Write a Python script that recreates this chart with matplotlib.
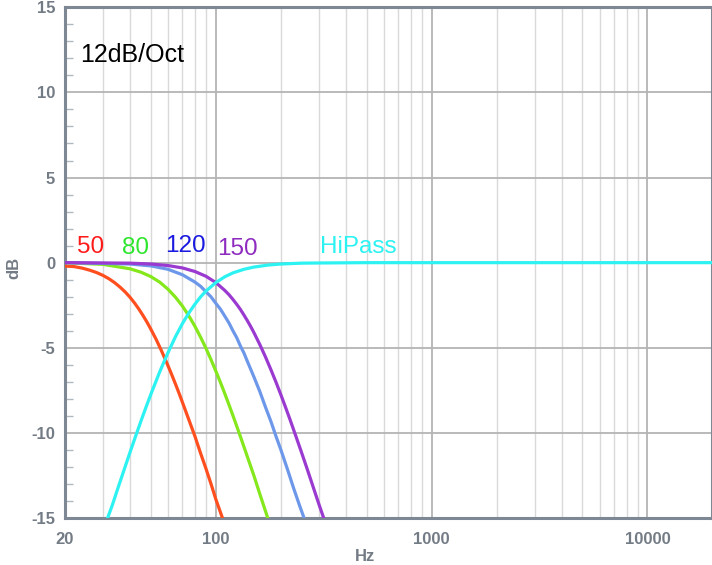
import matplotlib
matplotlib.use("Agg")
import matplotlib.pyplot as plt
from matplotlib.ticker import FixedLocator, MultipleLocator, LogLocator, NullFormatter

plt.rcParams['font.family'] = ['Liberation Sans', 'DejaVu Sans']

# Curves (Hz, dB)
freq_50 = [20, 22, 24, 26, 28, 30, 32, 34, 36, 38, 40, 42, 44, 46, 48, 50, 53, 56, 59, 62,
           65, 68, 72, 76, 80, 85, 90, 95, 100, 108]
db_50 = [-0.2, -0.23, -0.32, -0.44, -0.58, -0.75, -0.95, -1.18, -1.44, -1.72, -2.03, -2.37,
         -2.73, -3.11, -3.5, -3.91, -4.53, -5.18, -5.83, -6.48, -7.13, -7.77, -8.62, -9.43,
         -10.2, -11.2, -12.1, -13.0, -13.9, -15.1]

freq_80 = [20, 30, 40, 45, 50, 55, 60, 65, 70, 75, 80, 85, 90, 95, 100, 105, 110, 115, 120,
           125, 130, 135, 140, 150, 160, 174]
db_80 = [0.0, -0.1, -0.36, -0.56, -0.82, -1.15, -1.56, -2.03, -2.55, -3.13, -3.74, -4.38,
         -5.03, -5.7, -6.37, -7.03, -7.69, -8.34, -8.98, -9.61, -10.22, -10.82, -11.4, -12.5,
         -13.6, -15.0]

freq_120 = [20, 40, 50, 60, 70, 80, 85, 90, 95, 100, 105, 110, 115, 120, 125, 130, 135, 140,
            150, 160, 170, 180, 190, 200, 215, 230, 245, 258]
db_120 = [0.0, -0.08, -0.19, -0.39, -0.71, -1.14, -1.39, -1.71, -2.01, -2.39, -2.73, -3.14,
          -3.54, -4.0, -4.41, -4.9, -5.31, -5.8, -6.7, -7.58, -8.5, -9.33, -10.2, -10.98,
          -12.16, -13.3, -14.31, -15.1]

freq_150 = [20, 40, 50, 60, 70, 80, 90, 100, 110, 115, 120, 125, 130, 135, 140, 145, 150, 160,
            170, 180, 190, 200, 210, 220, 235, 250, 265, 280, 300, 320]
db_150 = [0.0, -0.03, -0.08, -0.17, -0.31, -0.52, -0.8, -1.17, -1.63, -1.88, -2.16, -2.45,
          -2.75, -3.08, -3.41, -3.75, -4.1, -4.82, -5.55, -6.29, -7.02, -7.75, -8.47, -9.17,
          -10.2, -11.18, -12.12, -13.03, -14.17, -15.2]

freq_hp = [31.5, 33, 35, 37.5, 40, 42.5, 45, 47.5, 50, 55, 60, 65, 70, 75, 80, 85, 90, 100,
           110, 120, 135, 150, 175, 200, 250, 300, 500, 20000]
db_hp = [-15.0, -14.31, -13.33, -12.2, -11.15, -10.19, -9.3, -8.48, -7.73, -6.4, -5.29, -4.35,
         -3.58, -2.95, -2.44, -2.01, -1.67, -1.17, -0.83, -0.6, -0.39, -0.26, -0.14, -0.08,
         -0.03, -0.02, 0.0, 0.0]

x_ticks = [20, 100, 1000, 10000]
y_ticks = [-15, -10, -5, 0, 5, 10, 15]

fig = plt.figure(figsize=(7.12, 5.65), dpi=100)
ax = fig.add_axes([65 / 712, 47 / 565, 647.4 / 712, 510.7 / 565])

ax.set_xscale('log')
ax.set_xlim(20, 20000)
ax.set_ylim(-15, 15)

# grid
ax.xaxis.set_major_locator(FixedLocator([100, 1000, 10000]))
ax.xaxis.set_minor_locator(LogLocator(base=10, subs=range(2, 10), numticks=20))
ax.xaxis.set_minor_formatter(NullFormatter())
ax.yaxis.set_major_locator(FixedLocator(y_ticks))
ax.yaxis.set_minor_locator(MultipleLocator(1))
ax.grid(True, which='major', axis='both', color='#b4b4b4', linewidth=1.3, zorder=0)
ax.grid(True, which='minor', axis='x', color='#d9d9d9', linewidth=1.0, zorder=0)

# curves
lw = 2.3
ax.plot(freq_50, db_50, color='#ff4f1f', lw=lw, zorder=3)
ax.plot(freq_80, db_80, color='#84e81c', lw=lw, zorder=3)
ax.plot(freq_120, db_120, color='#6d98ea', lw=lw, zorder=3)
ax.plot(freq_150, db_150, color='#9a3ad0', lw=lw, zorder=3)
ax.plot(freq_hp, db_hp, color='#2cf2f2', lw=lw, zorder=4)

# labels on the chart
ax.text(22.8, 0.56, '50', color='#ff1a1a', fontsize=17.5)
ax.text(36.8, 0.5, '80', color='#2ee62e', fontsize=17.5)
ax.text(58.2, 0.62, '120', color='#1a1ae0', fontsize=17.5)
ax.text(101.9, 0.44, '150', color='#8e2cc0', fontsize=17.5)
ax.text(303, 0.56, 'HiPass', color='#2cf2f2', fontsize=17.5)
ax.text(23.5, 11.8, '12dB/Oct', color='black', fontsize=18)

# ticks
ax.set_xticks(x_ticks)
ax.set_xticklabels([str(t) for t in x_ticks])
ax.set_yticks(y_ticks)
ax.set_yticklabels([str(t) for t in y_ticks])
tick_col = '#737b85'
for lab in ax.get_xticklabels() + ax.get_yticklabels():
    lab.set_fontweight('bold')
    lab.set_color(tick_col)
    lab.set_fontsize(12)
ax.tick_params(axis='x', which='both', length=0, pad=10)
ax.tick_params(axis='y', which='major', length=0, pad=7)
ax.tick_params(axis='y', which='minor', direction='in', length=6, width=1, color='#b0b8c0')

for side in ['left', 'bottom', 'top', 'right']:
    ax.spines[side].set_color('#7d8894')
    ax.spines[side].set_linewidth(2.2)

ax.set_xlabel('Hz', fontsize=12, fontweight='bold', color=tick_col)
ax.set_ylabel('dB', fontsize=12, fontweight='bold', color=tick_col)
ax.xaxis.set_label_coords(0.463, -0.06)
ax.yaxis.set_label_coords(-0.068, 0.49)

fig.savefig('out.png', dpi=100)
